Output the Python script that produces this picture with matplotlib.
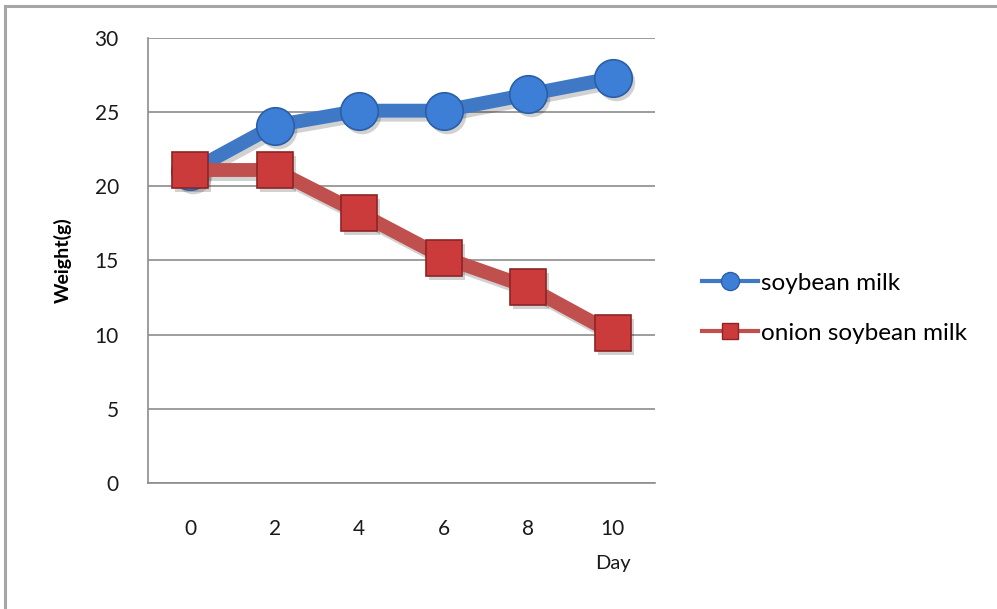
import matplotlib.pyplot as plt
import matplotlib.transforms as mtransforms
from matplotlib.lines import Line2D

dias = ['0', '2', '4', '6', '8', '10']
soja = [21, 24.1, 25.1, 25.1, 26.2, 27.3]
cebola_soja = [21.1, 21.1, 18.2, 15.2, 13.2, 10.1]

plt.rcParams['font.family'] = ['Lato', 'DejaVu Sans']

fig = plt.figure(figsize=(9.97, 6.09), dpi=100)
ax = fig.add_axes([0.1484, 0.207, 0.5086, 0.7306])

# moldura cinza em volta do grafico (so aparecem topo e esquerda)
fig.add_artist(Line2D([0.0055, 1.0], [0.9905, 0.9905], transform=fig.transFigure,
                      color='#a6a6a6', lw=2.2))
fig.add_artist(Line2D([0.0055, 0.0055], [0.0, 0.9905], transform=fig.transFigure,
                      color='#a6a6a6', lw=2.2))

x = range(len(dias))

# sombra: mesma serie deslocada alguns pixels para baixo/direita
desloc = mtransforms.ScaledTranslation(3 / 100, -4 / 100, fig.dpi_scale_trans)
sombra = ax.transData + desloc
for serie, mk, ms in [(soja, 'o', 27), (cebola_soja, 's', 26)]:
    ax.plot(x, serie, '-' + mk, color='#000000', alpha=0.18, lw=10, markersize=ms,
            markeredgewidth=0, transform=sombra, zorder=2)

ax.plot(x, soja, '-o', color='#3f78c4', lw=10, markersize=27,
        markerfacecolor='#3d7fd6', markeredgecolor='#2a5ea6', markeredgewidth=1.2,
        zorder=3)
ax.plot(x, cebola_soja, '-s', color='#c0504d', lw=10, markersize=26,
        markerfacecolor='#cc3b3b', markeredgecolor='#8e2424', markeredgewidth=1.2,
        zorder=4)

ax.set_xlim(-0.5, 5.5)
ax.set_ylim(0, 30)
ax.set_yticks(range(0, 31, 5))
ax.set_xticks(list(x))
ax.set_xticklabels(dias)
ax.tick_params(length=0, labelsize=15, colors='#1a1a1a')
ax.tick_params(axis='y', pad=21)
ax.tick_params(axis='x', pad=26)

ax.grid(axis='y', color='#8c8c8c', lw=1.2)
ax.set_axisbelow(True)
for lado in ['top', 'right']:
    ax.spines[lado].set_visible(False)
ax.spines['left'].set_color('#8c8c8c')
ax.spines['bottom'].set_color('#8c8c8c')
ax.spines['left'].set_linewidth(1.2)
ax.spines['bottom'].set_linewidth(1.2)

ax.set_ylabel('Weight(g)', fontsize=14, fontweight='bold', labelpad=16)
ax.text(5, -5.4, 'Day', ha='center', va='center', fontsize=14.5, color='#1a1a1a')

leg_soja = Line2D([], [], color='#3f78c4', lw=3, marker='o', markersize=13,
                  markerfacecolor='#3d7fd6', markeredgecolor='#2a5ea6')
leg_cebola = Line2D([], [], color='#c0504d', lw=3, marker='s', markersize=12,
                    markerfacecolor='#cc3b3b', markeredgecolor='#8e2424')
fig.legend([leg_soja, leg_cebola], ['soybean milk', 'onion soybean milk'],
           loc='center left', bbox_to_anchor=(0.682, 0.494), frameon=False,
           fontsize=17.5, handlelength=2.3, handletextpad=0.15, labelspacing=1.2)

plt.savefig('out.png')
